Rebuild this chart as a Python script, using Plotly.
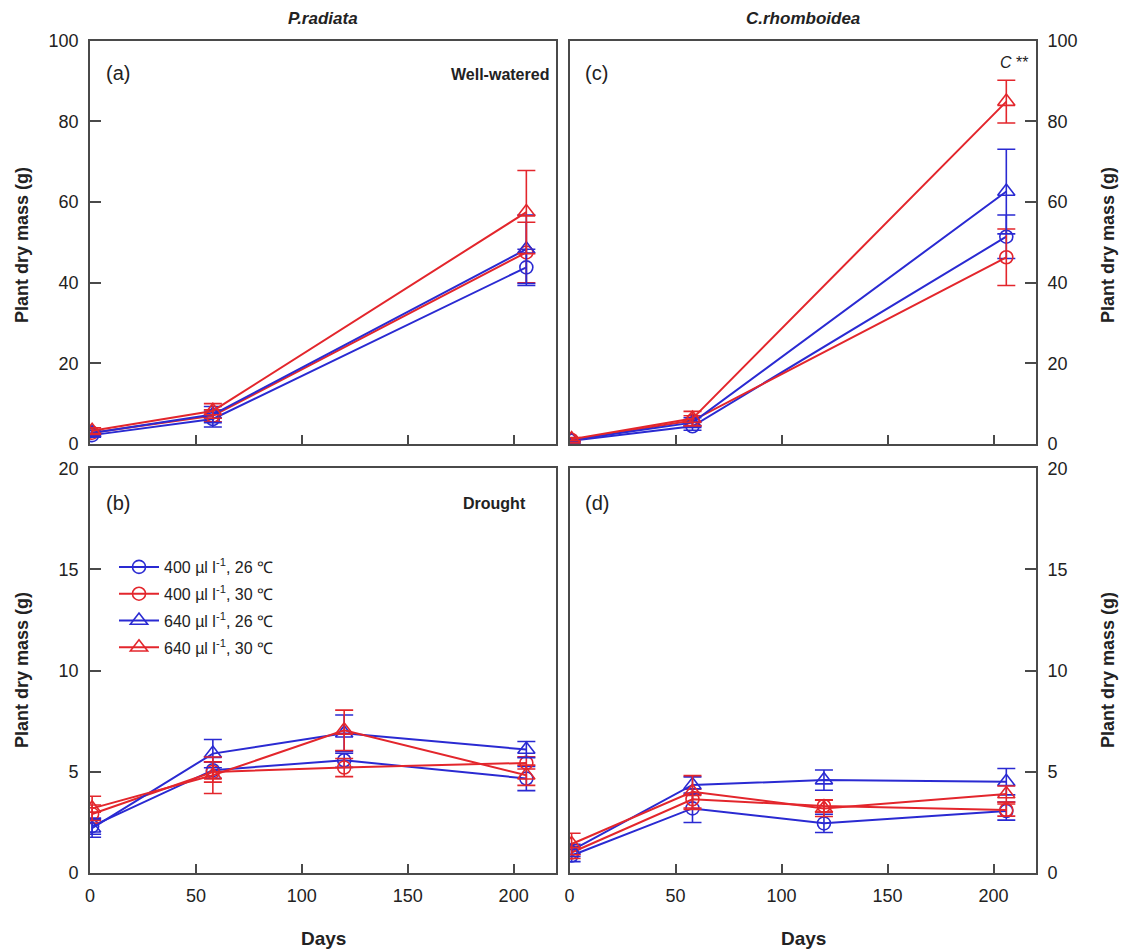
import plotly.graph_objects as go

# ---------------- data ----------------
days_ww = [1, 58, 206]
days_dr = [1, 58, 120, 206]

series_names = ["400 µl l<sup>-1</sup>, 26 ℃", "400 µl l<sup>-1</sup>, 30 ℃",
                "640 µl l<sup>-1</sup>, 26 ℃", "640 µl l<sup>-1</sup>, 30 ℃"]

# (a) P. radiata, well-watered
a_400_26 = [2.2, 6.2, 43.8]
a_400_30 = [2.8, 7.0, 47.5]
a_640_26 = [2.7, 7.3, 48.3]
a_640_30 = [3.3, 8.2, 57.5]
a_err_400_26 = [0.5, 2.0, 4.5]
a_err_400_30 = [0.6, 1.5, 7.5]
a_err_640_26 = [0.6, 2.0, 8.5]
a_err_640_30 = [0.7, 1.8, 10.3]

# (c) C. rhomboidea, well-watered
c_400_26 = [0.8, 4.4, 51.4]
c_400_30 = [1.0, 5.8, 46.3]
c_640_26 = [1.0, 5.3, 62.6]
c_640_30 = [1.2, 6.3, 84.9]
c_err_400_26 = [0.3, 1.0, 5.4]
c_err_400_30 = [0.3, 1.2, 7.0]
c_err_640_26 = [0.3, 1.2, 10.5]
c_err_640_30 = [0.4, 1.8, 5.3]

# (b) P. radiata, drought
b_400_26 = [2.3, 5.07, 5.56, 4.66]
b_400_30 = [2.9, 4.98, 5.2, 5.43]
b_640_26 = [2.2, 5.89, 6.9, 6.09]
b_640_30 = [3.18, 4.82, 7.04, 4.82]
b_err_400_26 = [0.4, 0.4, 0.35, 0.6]
b_err_400_30 = [0.45, 0.5, 0.45, 0.3]
b_err_640_26 = [0.45, 0.7, 0.9, 0.4]
b_err_640_30 = [0.6, 0.9, 1.0, 0.5]

# (d) C. rhomboidea, drought
d_400_26 = [0.85, 3.18, 2.44, 3.05]
d_400_30 = [1.0, 3.63, 3.3, 3.1]
d_640_26 = [1.1, 4.34, 4.58, 4.5]
d_640_30 = [1.42, 4.0, 3.18, 3.89]
d_err_400_26 = [0.3, 0.7, 0.45, 0.45]
d_err_400_30 = [0.3, 0.5, 0.3, 0.3]
d_err_640_26 = [0.3, 0.4, 0.5, 0.65]
d_err_640_30 = [0.53, 0.8, 0.4, 0.4]

x_ticks = [0, 50, 100, 150, 200]

# ---------------- style ----------------
BLUE = "#2a2ad2"
RED = "#e3262c"
colors = [BLUE, RED, BLUE, RED]
symbols = ["circle-open", "circle-open", "triangle-up-open", "triangle-up-open"]
sizes = [13, 13, 15, 15]
FONT = "Liberation Sans, Arial, sans-serif"
AX = "#4a4a4a"

fig = go.Figure()

panels = [
    ("x", "y", days_ww,
     [a_400_26, a_400_30, a_640_26, a_640_30],
     [a_err_400_26, a_err_400_30, a_err_640_26, a_err_640_30], False),
    ("x2", "y2", days_ww,
     [c_400_26, c_400_30, c_640_26, c_640_30],
     [c_err_400_26, c_err_400_30, c_err_640_26, c_err_640_30], False),
    ("x3", "y3", days_dr,
     [b_400_26, b_400_30, b_640_26, b_640_30],
     [b_err_400_26, b_err_400_30, b_err_640_26, b_err_640_30], True),
    ("x4", "y4", days_dr,
     [d_400_26, d_400_30, d_640_26, d_640_30],
     [d_err_400_26, d_err_400_30, d_err_640_26, d_err_640_30], False),
]

for xa, ya, xs, ys, errs, show in panels:
    for i in range(4):
        fig.add_trace(go.Scatter(
            x=xs, y=ys[i], xaxis=xa, yaxis=ya,
            mode="lines+markers",
            name=series_names[i],
            legendgroup="g%d" % i,
            showlegend=show,
            line=dict(color=colors[i], width=2),
            marker=dict(symbol=symbols[i], size=sizes[i], color=colors[i],
                        line=dict(width=1.6, color=colors[i])),
            error_y=dict(type="data", array=errs[i], visible=True,
                         color=colors[i], thickness=1.6, width=9),
        ))

# page body has an 8px margin: design in window pixels, shift by 8
OFF = 8
W, H = 1128 - OFF, 950 - OFF
def fx(px):
    return (px - OFF) / W
def fy(py):
    return 1 - (py - OFF) / H

xdom_l = [fx(90), fx(556)]
xdom_r = [fx(569.5), fx(1036)]
ydom_t = [fy(444), fy(40.7)]
ydom_b = [fy(872.7), fy(468.3)]

tickfont = dict(family=FONT, size=18, color="#222")

def xaxis(domain, anchor, labels):
    return dict(domain=domain, anchor=anchor, range=[0, 220],
                tickvals=x_ticks, ticks="inside", ticklen=9, tickwidth=1.5,
                tickcolor=AX, showline=True, linecolor=AX, linewidth=1.6,
                mirror=True, showgrid=False, zeroline=False, automargin=False,
                showticklabels=labels, tickfont=tickfont, ticklabelstandoff=6)

def yaxis(domain, anchor, rng, dtick, side):
    return dict(domain=domain, anchor=anchor, range=rng, dtick=dtick,
                ticks="inside", ticklen=11, tickwidth=1.5, tickcolor=AX,
                showline=True, linecolor=AX, linewidth=1.6, mirror=True,
                showgrid=False, zeroline=False, side=side, automargin=False,
                tickfont=tickfont, ticklabelstandoff=6)

fig.update_layout(
    template="none",
    width=W, height=H, autosize=False,
    margin=dict(l=0, r=0, t=0, b=0, pad=0),
    paper_bgcolor="white", plot_bgcolor="white",
    font=dict(family=FONT, color="#222"),
    xaxis=xaxis(xdom_l, "y", False),
    xaxis2=xaxis(xdom_r, "y2", False),
    xaxis3=xaxis(xdom_l, "y3", True),
    xaxis4=xaxis(xdom_r, "y4", True),
    yaxis=yaxis(ydom_t, "x", [0, 100], 20, "left"),
    yaxis2=yaxis(ydom_t, "x2", [0, 100], 20, "right"),
    yaxis3=yaxis(ydom_b, "x3", [0, 20], 5, "left"),
    yaxis4=yaxis(ydom_b, "x4", [0, 20], 5, "right"),
    legend=dict(x=fx(114), y=fy(550), xanchor="left", yanchor="top",
                bgcolor="rgba(0,0,0,0)", borderwidth=0,
                font=dict(family=FONT, size=16, color="#222"),
                tracegroupgap=3, itemwidth=40),
    showlegend=True,
)

ann = []
def add(text, x, y, size=20, xanchor="left", yanchor="middle", angle=0):
    ann.append(dict(text=text, x=fx(x), y=fy(y), xref="paper", yref="paper",
                    showarrow=False, xanchor=xanchor, yanchor=yanchor,
                    textangle=angle, font=dict(family=FONT, size=size, color="#222")))

add("(a)", 104, 73)
add("(c)", 583, 73)
add("(b)", 104, 503)
add("(d)", 583, 503)
add("<b>Well-watered</b>", 551, 75, size=16, xanchor="right")
add("<b>Drought</b>", 528, 503, size=16, xanchor="right")
add("<i>C</i> **", 1030, 63, size=16, xanchor="right")
add("<b><i>P.radiata</i></b>", 323, 19, size=17, xanchor="center")
add("<b><i>C.rhomboidea</i></b>", 803, 19, size=17, xanchor="center")
add("<b>Plant dry mass (g)</b>", 22, 245, size=18, xanchor="center", angle=-90)
add("<b>Plant dry mass (g)</b>", 22, 670, size=18, xanchor="center", angle=-90)
add("<b>Plant dry mass (g)</b>", 1108, 245, size=18, xanchor="center", angle=-90)
add("<b>Plant dry mass (g)</b>", 1108, 670, size=18, xanchor="center", angle=-90)
add("<b>Days</b>", 323, 938, size=19, xanchor="center")
add("<b>Days</b>", 803, 938, size=19, xanchor="center")
fig.update_layout(annotations=ann)

fig.write_html("out.html")
